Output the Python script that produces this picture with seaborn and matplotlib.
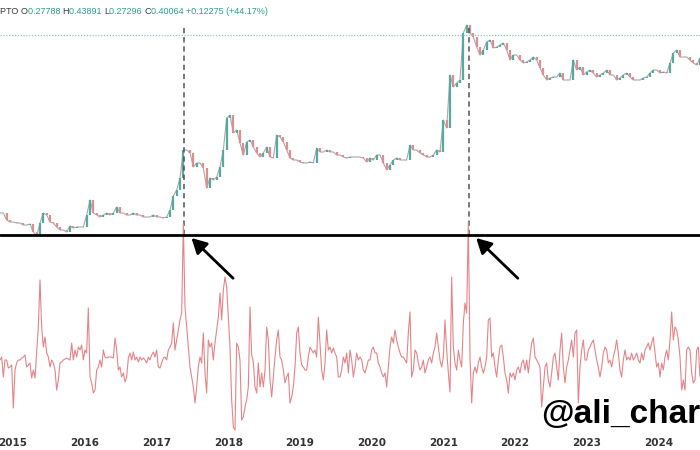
import numpy as np
import pandas as pd
import matplotlib
matplotlib.use("Agg")
import matplotlib.pyplot as plt
import seaborn as sns

# ---------------- data ----------------
START = "2014-10-27"
END = "2024-07-31"

price_close = [
    27, 27, 20, 18, 18, 17, 17, 15, 15, 16,
    8, 4, 17, 27, 25, 18, 17, 13, 10, 10,
    8, 14, 12, 13, 13, 13, 25, 40, 27, 25,
    23, 25, 27, 25, 27, 33, 27, 27, 25, 25,
    27, 25, 25, 23, 23, 23, 25, 23, 23, 22,
    23, 30, 44, 50, 62, 90, 90, 87, 73, 77,
    77, 72, 52, 62, 60, 63, 73, 90, 122, 125,
    107, 110, 97, 85, 98, 100, 93, 87, 83, 87,
    93, 83, 82, 105, 103, 98, 90, 82, 80, 80,
    78, 77, 77, 78, 77, 92, 88, 88, 90, 88,
    88, 85, 85, 83, 82, 83, 83, 83, 83, 82,
    78, 82, 80, 85, 85, 77, 70, 75, 80, 82,
    80, 80, 80, 95, 90, 90, 87, 85, 83, 83,
    85, 90, 88, 120, 112, 165, 153, 157, 160, 207,
    215, 207, 203, 193, 185, 190, 198, 200, 192, 193,
    195, 197, 190, 180, 185, 185, 180, 177, 178, 180,
    183, 180, 172, 165, 160, 162, 163, 163, 167, 160,
    160, 160, 180, 170, 173, 165, 168, 170, 167, 163,
    165, 167, 170, 165, 165, 160, 162, 165, 167, 163,
    160, 160, 160, 162, 163, 167, 170, 170, 167, 168,
    167, 177, 187, 190, 183, 183, 183, 180, 177, 175,
    182,
]

oscillator = [
    0, 3, -17, 0, 0, -8, -7, -5, -48, -10,
    -3, 0, 0, 2, 3, 5, -7, -5, -3, -18,
    -10, -18, 7, 33, 80, 33, 13, 23, 7, 3,
    -7, 0, -3, -10, -30, -20, -3, -2, 0, 1,
    2, 1, 0, 17, 0, 10, 3, 13, 10, 15,
    0, 10, 7, 52, -17, -23, -33, -30, -10, -7,
    0, -7, 10, 3, 2, 3, 3, 3, 2, 22,
    10, -10, -7, -17, -13, -22, -17, 2, 7, 0,
    8, 0, 3, -2, 3, 0, 2, 0, -3, 3,
    0, 5, 8, 3, 10, -7, -8, -3, 2, 3,
    0, 10, 13, 17, 37, 10, 20, 30, 40, 47,
    136, 53, 33, 13, -7, -17, -27, -43, -27, -7,
    3, -3, 27, -13, -33, 20, 13, 17, 0, 17,
    30, 43, 67, 40, 70, 83, 73, 43, 13, -40,
    -67, -70, 17, 13, 0, -60, -57, -47, -40, -27,
    53,
    5, -2, -27, -33, -3, -27, -13, -27, -10, 33,
    20, -20, -37, -17, 3, 20, 30, 3, 0, -10,
    -23, -17, -13, -43, -37, -27, -7, 27, 33, 7,
    -5, -7, -10, -10, 3, 13, 10, 7, 10, 3,
    43, 17, -10, -20, -3, 30, 10, 13, 7, 12,
    7, 3, -17, -17, -10, 3, -3, 7, -13, 10,
    0, -17, -7, 7, 0, 3, 0, -10, -13, -7,
    0, 0, 10, 13, 7, 7, -3, -7, -13, -17,
    -13, -27, -7, 13, 23, 17, 30, 20, 13, 7,
    3, 3, 0, -3, 27, 48, -17, -10, 10, 7,
    -3, -10, -7, 0, -13, -7, 0, 3, -3, 7,
    13, 27, 13, 0, -7, 3, 40, 10, -13, -32,
    83, 13, -3, -10, 10, 0, -7, 37, 57, 47,
    138,
    3, -43, -13, -7, -13, -3, 3, -7, -13, -7,
    3, 40, 42, 3, 7, -7, -17, 0, 13, 15,
    3, -13, -20, -33, -13, -17, -13, -20, -10, -7,
    -13, -3, 0, -10, 0, -13, 3, 17, 22, 3,
    0, -3, -7, -47, -27, -7, -3, -20, -27, -13,
    3, 7, -7, -20, 10, 27, -7, -23, -7, 0,
    10, 20, 3, 27, 30, -43, -7, 10, 20, 0,
    0, 10, 13, 17, 20, 10, 0, -7, -17, -7,
    7, 13, 10, -3, 0, -7, 3, 10, 20, 7,
    -10, -17, 0, 10, 0, 3, 0, 7, 0, 3,
    7, 0, -3, 7, 0, 10, 13, 17, 10, 17,
    23, 7, -7, -3, -17, -3, -10, 3, 10, 0,
    20, 48, 20, 33, 30, 20, 3, -30, -20, -30,
    10, 13, 10, -13, -23, -20, 10, 13, -17,
]

event_dates = ["2017-05-21", "2021-05-10"]
year_ticks = [2015, 2016, 2017, 2018, 2019, 2020, 2021, 2022, 2023, 2024]
header_parts = ["PTO ", "O", "0.27788 ", "H", "0.43891 ", "L", "0.27296 ",
                "C", "0.40064 ", "+0.12275 (+44.17%)"]
header_is_value = [False, False, True, False, True, False, True, False, True, True]
resistance_level = 205      # dotted teal line (price panel units)
signal_level = 125          # black threshold line (oscillator units)
watermark = "@ali_char"

# ---------------- styling ----------------
sns.set_theme(style="white")
plt.rcParams["font.family"] = ["DejaVu Sans"]

UP = "#55aa9f"
DOWN = "#df8d91"
WICK = "#a8a8a8"
OSC = "#e48488"
TEAL_TXT = "#2f9c90"
DARK_TXT = "#3a3a3a"

price_dates = pd.date_range(START, END, periods=len(price_close))
osc_dates = pd.date_range(START, END, periods=len(oscillator))
df_price = pd.DataFrame({"date": price_dates, "close": price_close})
df_price["open"] = df_price["close"].shift(1).fillna(df_price["close"])
df_osc = pd.DataFrame({"date": osc_dates, "osc": oscillator})
events = pd.to_datetime(event_dates)

fig = plt.figure(figsize=(7, 4.5), dpi=100)
fig.patch.set_facecolor("white")
ax_top = fig.add_axes([0, 1 - 235 / 450, 1, 235 / 450])
ax_bot = fig.add_axes([0, 18 / 450, 1, 217 / 450])
for ax in (ax_top, ax_bot):
    ax.patch.set_alpha(0)
    for s in ax.spines.values():
        s.set_visible(False)
    ax.set_xlim(pd.Timestamp(START), pd.Timestamp(END))

# ---- price candles ----
ax_top.set_ylim(5, 240)
sns.lineplot(data=df_price, x="date", y="close", ax=ax_top, color=WICK,
             lw=0.8, zorder=1)
up = df_price["close"] >= df_price["open"]
for mask, col in ((up, UP), (~up, DOWN)):
    lc = ax_top.vlines(df_price["date"][mask], df_price["open"][mask],
                       df_price["close"][mask], colors=col, lw=1.6, zorder=2)
    lc.set_capstyle("butt")
ax_top.axhline(resistance_level, color="#8fc4bf", lw=0.9, ls=(0, (1, 1.3)))
ax_top.vlines(events, 5, 212, colors="#555555", lw=1.1, linestyles=(0, (3.5, 2.5)),
              zorder=3)
ax_top.set_xticks([])
ax_top.set_yticks([])
ax_top.set_xlabel("")
ax_top.set_ylabel("")

# ---- oscillator ----
sns.lineplot(data=df_osc, x="date", y="osc", ax=ax_bot, color=OSC, lw=0.8)
ax_bot.set_ylim(-72, 145)
ax_bot.set_ylabel("")
ax_bot.set_xlabel("")
ax_bot.set_yticks([])
ax_bot.set_xticks([pd.Timestamp(f"{y}-01-01") for y in year_ticks])
ax_bot.set_xticklabels([str(y) for y in year_ticks],
                       family=["Liberation Sans Narrow", "DejaVu Sans"],
                       fontweight="bold")
ax_bot.tick_params(axis="x", length=0, pad=4, labelsize=7.5, labelcolor="#333333")
ax_bot.axhline(signal_level, color="black", lw=2.0, zorder=5)

for ev in events:
    ax_bot.annotate("", xy=(ev + pd.Timedelta(days=38), 122), xycoords="data",
                    xytext=(30, -29), textcoords="offset points",
                    arrowprops=dict(arrowstyle="-|>,head_length=0.5,head_width=0.27",
                                    lw=2.0, color="black", shrinkA=0, shrinkB=0,
                                    mutation_scale=18),
                    annotation_clip=False, zorder=6)

# ---- header (multi-coloured) ----
HFONT = ["Liberation Sans", "DejaVu Sans"]
prev = fig.text(0.0, 1 - 11 / 450, header_parts[0], color=DARK_TXT, family=HFONT,
                fontsize=6.5, va="center", ha="left")
for part, is_val in zip(header_parts[1:], header_is_value[1:]):
    prev = ax_top.annotate(part, xy=(1, 0.5), xycoords=prev, va="center", ha="left",
                           fontsize=6.5, family=HFONT,
                           color=TEAL_TXT if is_val else DARK_TXT,
                           annotation_clip=False)

# ---- watermark ----
fig.text(541 / 700, 1 - 423 / 450, watermark, fontsize=24, fontweight="bold",
         family=["Liberation Sans", "DejaVu Sans"], color="black",
         va="baseline", ha="left", zorder=10)

fig.savefig("out.png", dpi=100, facecolor="white")
